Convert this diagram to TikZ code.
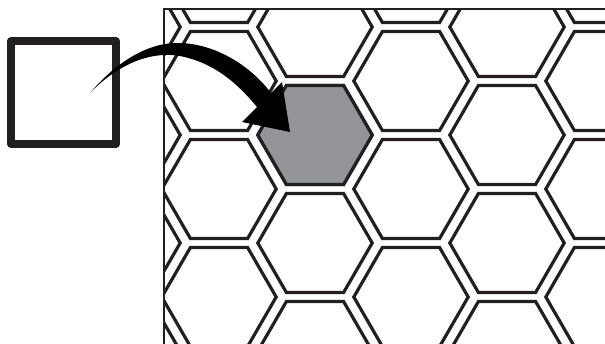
\documentclass[tikz,border=0pt]{standalone}
\definecolor{ink}{HTML}{231F20}
\definecolor{cellgray}{HTML}{939598}
\begin{document}
\begin{tikzpicture}[x=1pt,y=-1pt,
  hexcell/.style={draw=ink,line width=3.2pt,line join=miter},
  frameline/.style={draw=ink,line width=2.2pt},
  srcbox/.style={draw=ink,line width=8pt,line join=round,fill=white},
  bigarrow/.style={fill=black}]
\useasboundingbox (0,0) rectangle (605,343);
\begin{scope}
  \clip (164,9) rectangle (607,345);
  \foreach \k in {-2,...,3}{
    \pgfmathsetmacro{\cx}{315+96*\k}
    \pgfmathsetmacro{\oy}{135-54*mod(abs(\k),2)}
    \foreach \j in {-2,...,2}{
      \pgfmathsetmacro{\cy}{\oy+108*\j}
      \draw[hexcell] (\cx+57.2,\cy) -- (\cx+28.6,\cy+49.5) -- (\cx-28.6,\cy+49.5)
        -- (\cx-57.2,\cy) -- (\cx-28.6,\cy-49.5) -- (\cx+28.6,\cy-49.5) -- cycle;
    }
  }
  \draw[hexcell,fill=cellgray] (372.2,135) -- (343.6,184.5) -- (286.4,184.5)
    -- (257.8,135) -- (286.4,85.5) -- (343.6,85.5) -- cycle;
\end{scope}
\draw[frameline] (607,9) -- (164,9) -- (164,345);
% source square
\node[srcbox,minimum width=105pt,minimum height=103pt,inner sep=0pt] (src) at (63.5,92.5) {};
% tapered arrow
\coordinate (tail) at (90,93);
\coordinate (tip) at (290,132);
\fill[bigarrow] (tail) .. controls (118,60) and (150,42) .. (180,43)
  .. controls (215,44) and (250,65) .. (271,93)
  -- (282,82) -- (tip) -- (242,122) -- (257,107)
  .. controls (238,84) and (215,63) .. (180,56)
  .. controls (145,50) and (112,70) .. (tail) -- cycle;
\end{tikzpicture}
\end{document}
